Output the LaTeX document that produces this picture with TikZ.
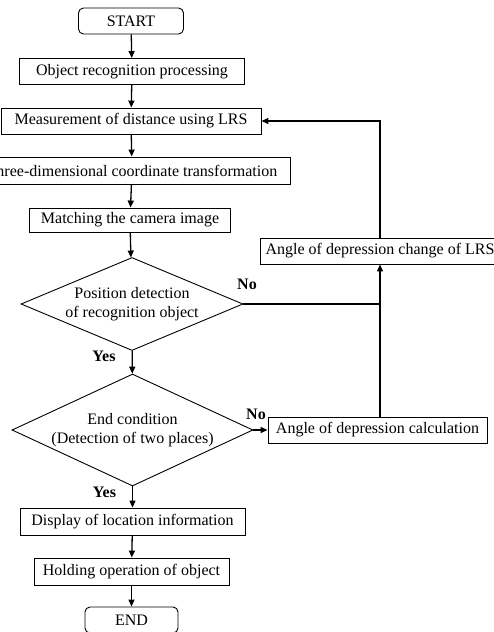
\documentclass[tikz,border=0pt]{standalone}
\usepackage{fontspec}
\setmainfont{Liberation Serif}
\usetikzlibrary{shapes.geometric,arrows.meta}

\begin{document}
\begin{tikzpicture}[
    x=1pt, y=-1pt,
    every node/.style={font=\fontsize{16}{19}\selectfont},
    >={Triangle[length=7pt,width=6pt]},
    procbox/.style={draw, line width=0.9pt, minimum height=26pt, inner sep=0pt},
    termbox/.style={procbox, rounded corners=5pt},
    decbox/.style={draw, diamond, line width=0.9pt, align=center, inner sep=0pt},
    flow/.style={line width=1.3pt},
    answer/.style={font=\fontsize{16}{19}\selectfont\bfseries},
]
\useasboundingbox (0,0) rectangle (493,632);

% === Main column ===
\node[termbox, minimum width=105pt] (start) at (131,21) {START};
\node[procbox, minimum width=225pt] (objrec) at (132,71.5) {Object recognition processing};
\node[procbox, minimum width=260pt] (meas) at (131,121) {Measurement of distance using LRS};
\node[procbox, minimum width=316pt, minimum height=27pt] (trans) at (132,170.5)
    {Three-dimensional coordinate transformation};
\node[procbox, minimum width=201pt, minimum height=24pt] (match) at (130,220) {Matching the camera image};

% === Decisions ===
\node[decbox, minimum width=222pt, minimum height=93pt, aspect=2.4] (posdet) at (132,304)
    {Position detection\\of recognition object};
\node[decbox, minimum width=241pt, minimum height=112pt, aspect=2.15] (endcond) at (132.5,430)
    {End condition\\(Detection of two places)};

% === Final steps ===
\node[procbox, minimum width=225pt, minimum height=27pt] (disp) at (132.5,521.5) {Display of location information};
\node[procbox, minimum width=195pt, minimum height=27pt] (hold) at (131.5,571.5) {Holding operation of object};
\node[termbox, minimum width=93pt] (end) at (131.5,620) {END};

% === Right branch ===
\node[procbox, minimum width=219pt] (calc) at (377.5,430) {Angle of depression calculation};
\node[procbox, minimum width=240pt] (change) at (380,251) {Angle of depression change of LRS};

% === Connectors ===
\draw[flow, ->] (start) -- (objrec);
\draw[flow, ->] (objrec) -- (meas);
\draw[flow, ->] (meas) -- (trans);
\draw[flow, ->] (trans) -- (match);
\draw[flow, ->] (match) -- (posdet);
\draw[flow, ->] (posdet) -- (endcond);
\draw[flow, ->] (endcond) -- (disp);
\draw[flow, ->] (disp) -- (hold);
\draw[flow, ->] (hold) -- (end);

\draw[flow, ->] (endcond.east) -- (calc.west);
\draw[flow, ->] (calc.north -| change.south) -- (change.south);
\draw[flow] (posdet.east) -- (posdet.east -| change.south);
\draw[flow, ->] (change.north) |- (meas.east);

% Yes / No labels
\node[answer] (no1) at (247,284) {No};
\node[answer] (yes1) at (104,356) {Yes};
\node[answer] (no2) at (256,414) {No};
\node[answer] (yes2) at (104.5,492) {Yes};

\end{tikzpicture}
\end{document}
